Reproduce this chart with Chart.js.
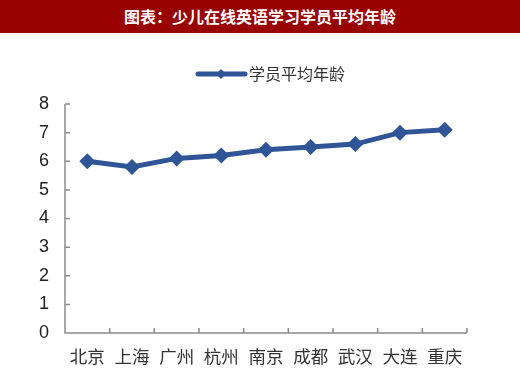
<!DOCTYPE html>
<html>
<head>
<meta charset="utf-8">
<script src="https://cdn.jsdelivr.net/npm/chart.js@4/dist/chart.umd.min.js"></script>
<style>
  html, body { margin: 0; padding: 0; background: #fff; }
  #wrap { position: relative; width: 520px; height: 375px; }
  .titleBar {
    position: absolute; left: 0; top: 0; width: 520px; height: 33px;
    background: #990000; color: #fff; text-align: center;
    font: bold 16px "Noto Sans CJK SC", sans-serif; line-height: 33px;
  }
  canvas { position: absolute; left: 0; top: 0; }
</style>
</head>
<body>
<div id="wrap">
  <canvas id="ageChart" width="520" height="375"></canvas>
  <div class="titleBar">图表：少儿在线英语学习学员平均年龄</div>
</div>
<script>
const cities = ['北京', '上海', '广州', '杭州', '南京', '成都', '武汉', '大连', '重庆']
const avgAge = [6.0, 5.8, 6.1, 6.2, 6.4, 6.5, 6.6, 7.0, 7.1]
const seriesName = '学员平均年龄'

const lineColor = '#2F5597'
const axisColor = '#8c8c8c'
const cjkFont = '"Noto Sans CJK SC", "Liberation Sans", sans-serif'

// axes with inward ticks, drawn from the chart's own scales
const innerAxes = {
  id: 'innerAxes',
  beforeDatasetsDraw(chart) {
    const { ctx, chartArea } = chart
    const y = chart.scales.y
    ctx.save()
    ctx.strokeStyle = axisColor
    ctx.lineWidth = 1.5
    ctx.beginPath()
    ctx.moveTo(chartArea.left, chartArea.top)
    ctx.lineTo(chartArea.left, chartArea.bottom)
    ctx.lineTo(chartArea.right, chartArea.bottom)
    y.ticks.forEach((t) => {
      const py = y.getPixelForValue(t.value)
      ctx.moveTo(chartArea.left, py)
      ctx.lineTo(chartArea.left + 5, py)
    })
    const step = (chartArea.right - chartArea.left) / cities.length
    for (let i = 1; i <= cities.length; i++) {
      const px = chartArea.left + i * step
      ctx.moveTo(px, chartArea.bottom)
      ctx.lineTo(px, chartArea.bottom - 5)
    }
    ctx.stroke()
    ctx.restore()
  },
}

// legend: line with a diamond marker
const lineLegend = {
  id: 'lineLegend',
  afterDraw(chart) {
    const { ctx } = chart
    const yy = 74
    ctx.save()
    ctx.strokeStyle = lineColor
    ctx.fillStyle = lineColor
    ctx.lineWidth = 5
    ctx.lineCap = 'round'
    ctx.beginPath()
    ctx.moveTo(198, yy)
    ctx.lineTo(245, yy)
    ctx.stroke()
    ctx.beginPath()
    ctx.moveTo(221, yy - 5)
    ctx.lineTo(226, yy)
    ctx.lineTo(221, yy + 5)
    ctx.lineTo(216, yy)
    ctx.closePath()
    ctx.fill()
    ctx.fillStyle = '#333'
    ctx.font = '16px ' + cjkFont
    ctx.textBaseline = 'middle'
    ctx.fillText(chart.data.datasets[0].label, 249, yy)
    ctx.restore()
  },
}

new Chart(document.getElementById('ageChart').getContext('2d'), {
  type: 'line',
  data: {
    labels: cities,
    datasets: [
      {
        label: seriesName,
        data: avgAge,
        borderColor: lineColor,
        backgroundColor: lineColor,
        borderWidth: 5,
        pointStyle: 'rectRot',
        pointRadius: 8,
        pointBorderWidth: 0,
        tension: 0,
      },
    ],
  },
  options: {
    responsive: false,
    animation: false,
    layout: { padding: { top: 104, right: 53, left: 0, bottom: 0 } },
    plugins: {
      legend: { display: false },
      tooltip: { enabled: false },
    },
    scales: {
      x: {
        offset: true,
        grid: { display: false, drawTicks: false },
        border: { display: false },
        ticks: { padding: 13, color: '#333', font: { size: 17.5, family: cjkFont } },
        afterFit(scale) { scale.height = 42 },
      },
      y: {
        min: 0,
        max: 8,
        grid: { display: false, drawTicks: false },
        border: { display: false },
        ticks: { stepSize: 1, padding: 16, color: '#222', font: { size: 18, family: '"Liberation Sans", Arial, sans-serif' } },
        afterFit(scale) { scale.width = 65 },
      },
    },
  },
  plugins: [innerAxes, lineLegend],
})
</script>
</body>
</html>
